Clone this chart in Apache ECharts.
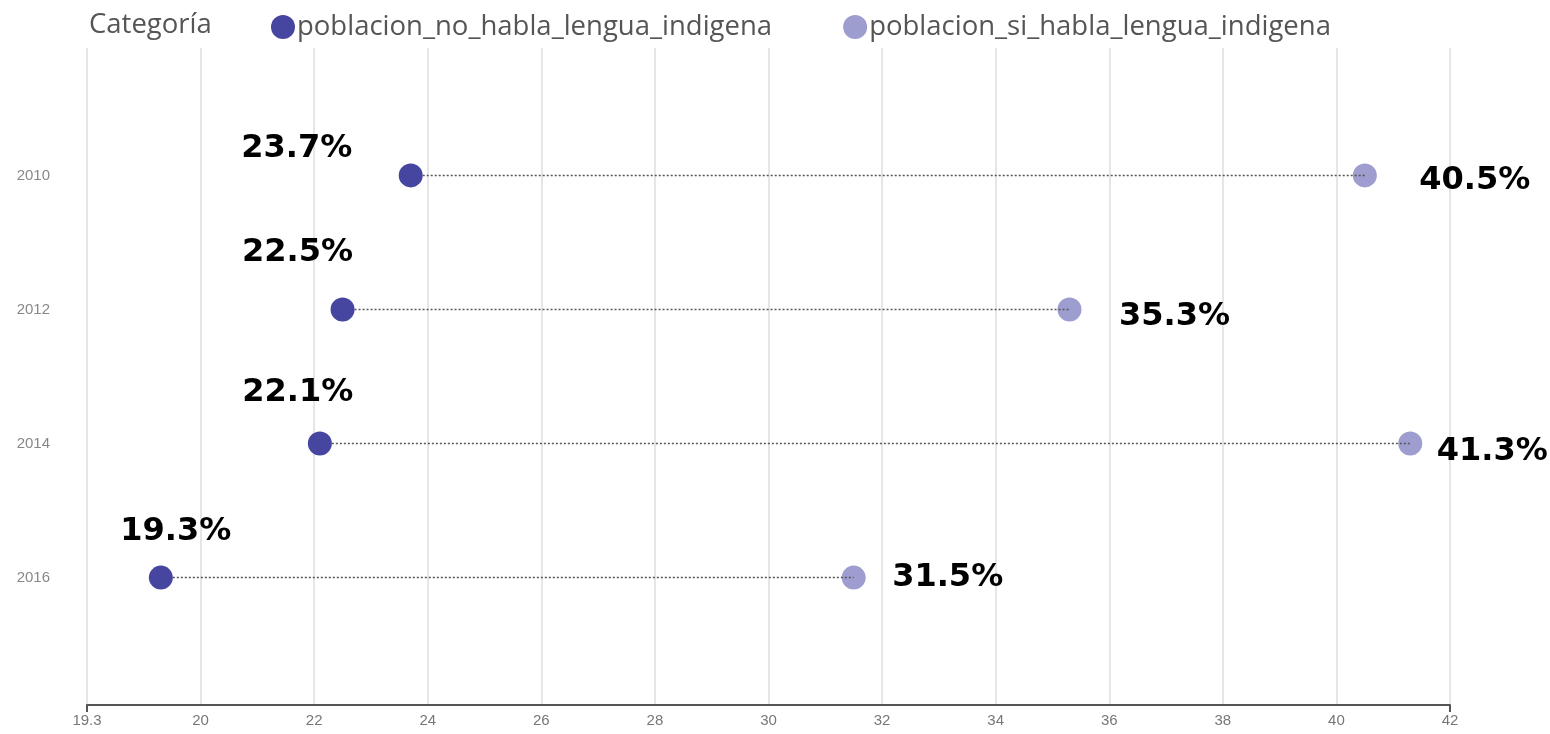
<!DOCTYPE html>
<html>
<head>
<meta charset="utf-8">
<script src="https://cdn.jsdelivr.net/npm/echarts@6/dist/echarts.min.js"></script>
<style>html,body{margin:0;padding:0;background:#fff}#c{width:1550px;height:734px}</style>
</head>
<body>
<div id="c"></div>
<script>
const years = [2010, 2012, 2014, 2016];
const noHabla = [23.7, 22.5, 22.1, 19.3];
const siHabla = [40.5, 35.3, 41.3, 31.5];
const seriesNames = ['poblacion_no_habla_lengua_indigena', 'poblacion_si_habla_lengua_indigena'];
const xTickLabels = {18: '19.3'};

// label placement (style only)
const noLabelOffsets = [[-114, -27], [-45, -57], [-22, -51], [15, -46]];
const siLabelOffsets = [[110, 5], [105, 7], [82, 8], [94, 0]];

const darkColor = '#4646a0';
const lightColor = '#9d9dcf';
const labelFont = {fontFamily: 'DejaVu Sans', fontWeight: 'bold', fontSize: 32, color: '#000'};

const chart = echarts.init(document.getElementById('c'));
chart.setOption({
  animation: false,
  title: {
    text: 'Categoría', left: 84, top: 6,
    textStyle: {fontFamily: 'Open Sans', fontWeight: 'normal', fontSize: 27.5, color: '#555'}
  },
  legend: {
    left: 266, top: 8, icon: 'circle', itemWidth: 24, itemHeight: 24, itemGap: 71,
    data: seriesNames,
    textStyle: {fontFamily: 'Open Sans', fontSize: 27.5, color: '#555', padding: [0, 0, 0, -3]}
  },
  grid: {left: 87, right: 100, top: 48, bottom: 29, containLabel: false},
  xAxis: [{
    type: 'value', min: 18, max: 42, interval: 2,
    axisLine: {show: true, lineStyle: {color: '#555', width: 2}},
    axisTick: {show: false},
    axisLabel: {
      fontFamily: 'Liberation Sans', fontSize: 15, color: '#777', margin: 8,
      formatter: v => (xTickLabels[v] !== undefined ? xTickLabels[v] : String(v))
    },
    splitLine: {show: true, lineStyle: {color: '#dedede', width: 1.5}}
  }, {
    type: 'value', min: 18, max: 42, position: 'bottom',
    axisLine: {show: false},
    axisTick: {show: true, customValues: [18, 42], length: 7, lineStyle: {color: '#555', width: 2}},
    axisLabel: {show: false},
    splitLine: {show: false}
  }],
  yAxis: {
    type: 'value', inverse: true, min: 2008.1, max: 2017.9,
    axisLine: {show: false}, axisTick: {show: false},
    splitLine: {show: false},
    axisLabel: {
      customValues: years, margin: 37,
      fontFamily: 'Liberation Sans', fontSize: 15, color: '#888',
      formatter: v => String(Math.round(v))
    }
  },
  series: [
    {
      name: seriesNames[1], type: 'scatter', symbolSize: 24, z: 2,
      itemStyle: {color: lightColor, opacity: 1},
      data: years.map((y, i) => ({
        value: [siHabla[i], y],
        label: {show: true, position: 'inside', offset: siLabelOffsets[i],
          formatter: siHabla[i].toFixed(1) + '%', ...labelFont}
      }))
    },
    {
      type: 'custom', z: 3, silent: true,
      encode: {x: [0, 1], y: 2},
      data: years.map((y, i) => [noHabla[i], siHabla[i], y]),
      renderItem: function (params, api) {
        const p1 = api.coord([api.value(0), api.value(2)]);
        const p2 = api.coord([api.value(1), api.value(2)]);
        return {
          type: 'line',
          shape: {x1: p1[0], y1: p1[1], x2: p2[0], y2: p2[1]},
          style: {stroke: '#555', lineWidth: 1.5, lineDash: [2, 2]}
        };
      }
    },
    {
      name: seriesNames[0], type: 'scatter', symbolSize: 24, z: 4,
      itemStyle: {color: darkColor, opacity: 1},
      data: years.map((y, i) => ({
        value: [noHabla[i], y],
        label: {show: true, position: 'inside', offset: noLabelOffsets[i],
          formatter: noHabla[i].toFixed(1) + '%', ...labelFont}
      }))
    }
  ]
});
</script>
</body>
</html>
